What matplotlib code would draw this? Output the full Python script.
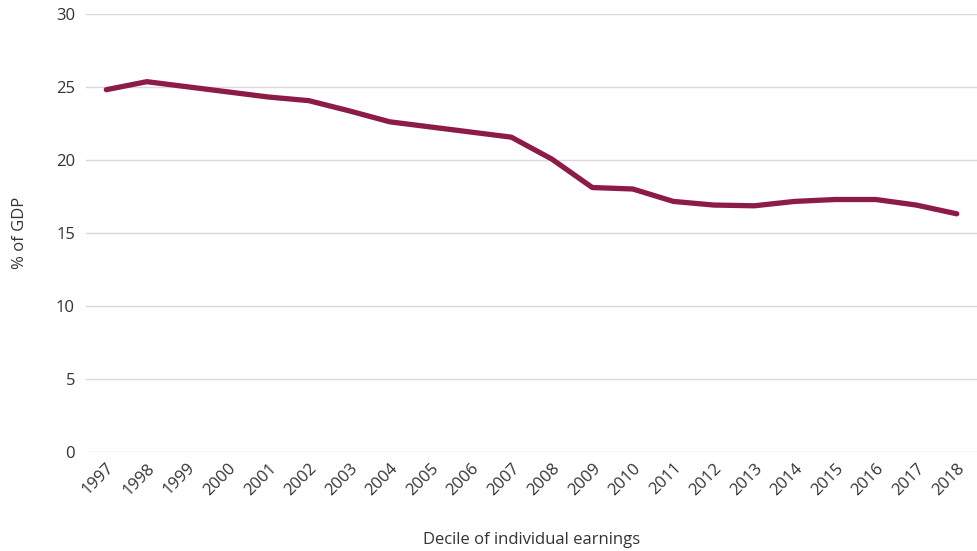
import matplotlib
matplotlib.use('Agg')
import matplotlib.pyplot as plt

years = [str(y) for y in range(1997, 2019)]
values = [24.8, 25.35, 25.0, 24.65, 24.3, 24.05, 23.35, 22.6, 22.25, 21.9, 21.55,
          20.05, 18.1, 18.0, 17.15, 16.9, 16.85, 17.15, 17.28, 17.28, 16.9, 16.3]

plt.rcParams['font.family'] = ['Open Sans', 'DejaVu Sans']
text_color = '#333333'

fig = plt.figure(figsize=(9.78, 5.51), dpi=100)
ax = fig.add_axes([0.088, 0.180, 0.911, 0.795])

x = list(range(len(years)))
ax.plot(x, values, color='#8C1C47', linewidth=3.8, solid_capstyle='round',
        solid_joinstyle='round', zorder=3)

ax.set_xlim(-0.5, len(years) - 0.5)
ax.set_ylim(0, 30)
ax.set_yticks(range(0, 31, 5))
ax.set_xticks(x)
ax.set_xticklabels(years, rotation=45, ha='right', rotation_mode='anchor')
ax.yaxis.grid(True, color='#d9d9d9', linewidth=1)
ax.set_axisbelow(True)
for s in ax.spines.values():
    s.set_visible(False)
ax.tick_params(axis='both', length=0, labelsize=12, colors=text_color)
ax.tick_params(axis='y', pad=8)
ax.tick_params(axis='x', pad=6)

ax.set_ylabel('% of GDP', fontsize=12, color=text_color, labelpad=20)
ax.set_xlabel('Decile of individual earnings', fontsize=12, color=text_color, labelpad=24)

plt.savefig('out.png', dpi=100)
